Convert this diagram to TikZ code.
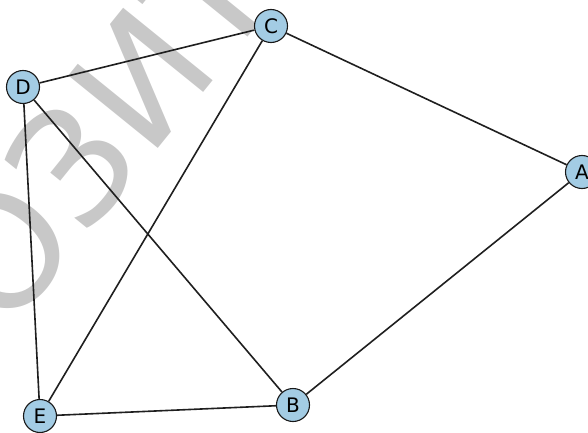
\documentclass[tikz,border=0pt]{standalone}
\usepackage{fontspec}
\setmainfont{DejaVu Sans}
\definecolor{nodeblue}{RGB}{163,204,228}
\definecolor{wmgray}{RGB}{200,200,200}
\tikzset{
  vertex/.style={circle, draw=black!90, line width=1.1pt, fill=nodeblue,
    minimum size=33pt, inner sep=0pt, font=\fontsize{20}{20}\selectfont},
  link/.style={line width=1.6pt, black!88},
}
\begin{document}
\begin{tikzpicture}[x=1pt, y=1pt]
  \useasboundingbox (0,0) rectangle (588,432);
  \clip (0,0) rectangle (588,432);
  % Watermark
  \node[wmgray, rotate=51, anchor=base west, inner sep=0pt,
    font=\fontsize{158}{158}\selectfont] (mark) at (6,96) {ОЗИТ};
  % Vertices
  \node[vertex] (A) at (582,260) {A};
  \node[vertex] (B) at (293,27) {B};
  \node[vertex] (C) at (271,406) {C};
  \node[vertex] (D) at (23,345) {D};
  \node[vertex] (E) at (40,16) {E};
  % Edges
  \draw[link] (D) -- (C);
  \draw[link] (C) -- (A);
  \draw[link] (A) -- (B);
  \draw[link] (B) -- (E);
  \draw[link] (E) -- (D);
  \draw[link] (D) -- (B);
  \draw[link] (C) -- (E);
\end{tikzpicture}
\end{document}
